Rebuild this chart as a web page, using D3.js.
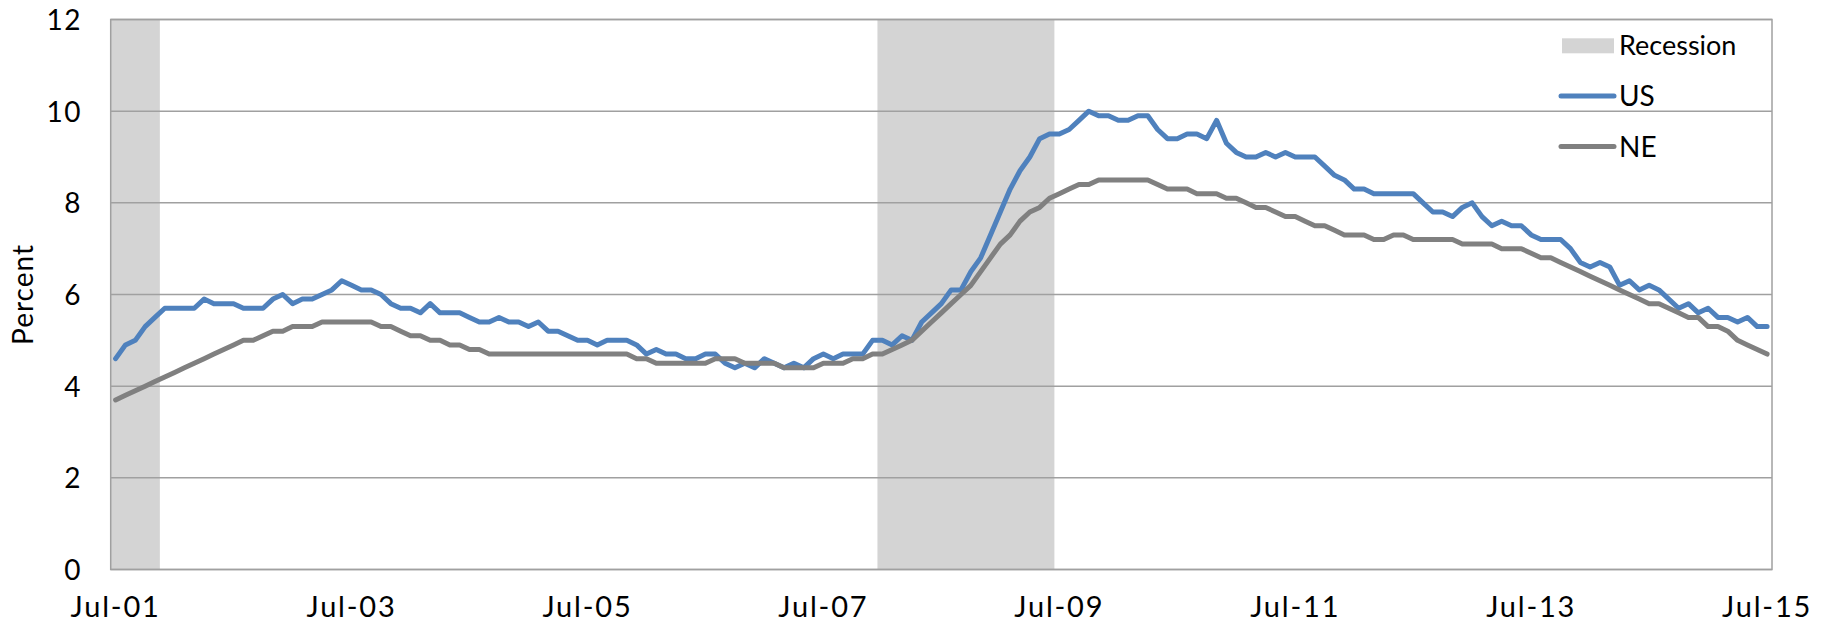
<!DOCTYPE html>
<html>
<head>
<meta charset="utf-8">
<script src="https://cdn.jsdelivr.net/npm/d3@7"></script>
<style>
  html, body { margin: 0; padding: 0; background: #fff; }
  svg { display: block; font-family: Lato, "Open Sans", sans-serif; }
</style>
</head>
<body>
<svg id="chart" width="1825" height="621"></svg>
<script>
// ---- Data ----
// Monthly, Jul-2001 .. Jul-2015 (169 months)
const startMonth = new Date(2001, 6, 1);
const endMonth = new Date(2015, 6, 1);
const monthFmt = d3.timeFormat("%b-%y");
const categories = d3.timeMonth.range(startMonth, d3.timeMonth.offset(endMonth, 1)).map(monthFmt);

const tickLabels = ["Jul-01", "Jul-03", "Jul-05", "Jul-07", "Jul-09", "Jul-11", "Jul-13", "Jul-15"];
const yTicks = [0, 2, 4, 6, 8, 10, 12];

const usValues = [
  4.6, 4.9, 5.0, 5.3, 5.5, 5.7,
  5.7, 5.7, 5.7, 5.9, 5.8, 5.8, 5.8, 5.7, 5.7, 5.7, 5.9, 6.0,
  5.8, 5.9, 5.9, 6.0, 6.1, 6.3, 6.2, 6.1, 6.1, 6.0, 5.8, 5.7,
  5.7, 5.6, 5.8, 5.6, 5.6, 5.6, 5.5, 5.4, 5.4, 5.5, 5.4, 5.4,
  5.3, 5.4, 5.2, 5.2, 5.1, 5.0, 5.0, 4.9, 5.0, 5.0, 5.0, 4.9,
  4.7, 4.8, 4.7, 4.7, 4.6, 4.6, 4.7, 4.7, 4.5, 4.4, 4.5, 4.4,
  4.6, 4.5, 4.4, 4.5, 4.4, 4.6, 4.7, 4.6, 4.7, 4.7, 4.7, 5.0,
  5.0, 4.9, 5.1, 5.0, 5.4, 5.6, 5.8, 6.1, 6.1, 6.5, 6.8, 7.3,
  7.8, 8.3, 8.7, 9.0, 9.4, 9.5, 9.5, 9.6, 9.8, 10.0, 9.9, 9.9,
  9.8, 9.8, 9.9, 9.9, 9.6, 9.4, 9.4, 9.5, 9.5, 9.4, 9.8, 9.3,
  9.1, 9.0, 9.0, 9.1, 9.0, 9.1, 9.0, 9.0, 9.0, 8.8, 8.6, 8.5,
  8.3, 8.3, 8.2, 8.2, 8.2, 8.2, 8.2, 8.0, 7.8, 7.8, 7.7, 7.9,
  8.0, 7.7, 7.5, 7.6, 7.5, 7.5, 7.3, 7.2, 7.2, 7.2, 7.0, 6.7,
  6.6, 6.7, 6.6, 6.2, 6.3, 6.1, 6.2, 6.1, 5.9, 5.7, 5.8, 5.6,
  5.7, 5.5, 5.5, 5.4, 5.5, 5.3, 5.3
];

const neValues = [
  3.7, 3.8, 3.9, 4.0, 4.1, 4.2,
  4.3, 4.4, 4.5, 4.6, 4.7, 4.8, 4.9, 5.0, 5.0, 5.1, 5.2, 5.2,
  5.3, 5.3, 5.3, 5.4, 5.4, 5.4, 5.4, 5.4, 5.4, 5.3, 5.3, 5.2,
  5.1, 5.1, 5.0, 5.0, 4.9, 4.9, 4.8, 4.8, 4.7, 4.7, 4.7, 4.7,
  4.7, 4.7, 4.7, 4.7, 4.7, 4.7, 4.7, 4.7, 4.7, 4.7, 4.7, 4.6,
  4.6, 4.5, 4.5, 4.5, 4.5, 4.5, 4.5, 4.6, 4.6, 4.6, 4.5, 4.5,
  4.5, 4.5, 4.4, 4.4, 4.4, 4.4, 4.5, 4.5, 4.5, 4.6, 4.6, 4.7,
  4.7, 4.8, 4.9, 5.0, 5.2, 5.4, 5.6, 5.8, 6.0, 6.2, 6.5, 6.8,
  7.1, 7.3, 7.6, 7.8, 7.9, 8.1, 8.2, 8.3, 8.4, 8.4, 8.5, 8.5,
  8.5, 8.5, 8.5, 8.5, 8.4, 8.3, 8.3, 8.3, 8.2, 8.2, 8.2, 8.1,
  8.1, 8.0, 7.9, 7.9, 7.8, 7.7, 7.7, 7.6, 7.5, 7.5, 7.4, 7.3,
  7.3, 7.3, 7.2, 7.2, 7.3, 7.3, 7.2, 7.2, 7.2, 7.2, 7.2, 7.1,
  7.1, 7.1, 7.1, 7.0, 7.0, 7.0, 6.9, 6.8, 6.8, 6.7, 6.6, 6.5,
  6.4, 6.3, 6.2, 6.1, 6.0, 5.9, 5.8, 5.8, 5.7, 5.6, 5.5, 5.5,
  5.3, 5.3, 5.2, 5.0, 4.9, 4.8, 4.7
];

const recessions = [
  { start: "Jul-01", end: "Nov-01" },
  { start: "Jan-08", end: "Jun-09" }
];

const seriesNames = ["US", "NE"];
const seriesColors = ["#4f81bd", "#808080"];

// ---- Layout ----
const plot = { left: 110.7, right: 1772, top: 19.5, bottom: 569.5 };
const svg = d3.select("#chart");

const x = d3.scaleBand().domain(categories).range([plot.left, plot.right]).paddingInner(0).paddingOuter(0);
const y = d3.scaleLinear().domain([0, 12]).range([plot.bottom, plot.top]);
const cx = c => x(c) + x.bandwidth() / 2;

// Recession shading
svg.append("g").selectAll("rect").data(recessions).join("rect")
  .attr("x", d => x(d.start))
  .attr("width", d => x(d.end) + x.bandwidth() - x(d.start))
  .attr("y", y(12))
  .attr("height", y(0) - y(12))
  .attr("fill", "#d4d4d4");

// Gridlines
svg.append("g").selectAll("line").data(yTicks).join("line")
  .attr("x1", plot.left).attr("x2", plot.right)
  .attr("y1", d => y(d)).attr("y2", d => y(d))
  .attr("stroke", "#a0a0a0").attr("stroke-width", 1.5);

// Lines
const line = d3.line().x((d, i) => cx(categories[i])).y(d => y(d));
[usValues, neValues].forEach((vals, k) => {
  svg.append("path").datum(vals)
    .attr("d", line)
    .attr("fill", "none")
    .attr("stroke", seriesColors[k])
    .attr("stroke-width", 5)
    .attr("stroke-linejoin", "round")
    .attr("stroke-linecap", "round");
});

// Plot border
svg.append("rect")
  .attr("x", plot.left).attr("y", plot.top)
  .attr("width", plot.right - plot.left).attr("height", plot.bottom - plot.top)
  .attr("fill", "none").attr("stroke", "#a0a0a0").attr("stroke-width", 1.5);

// Y axis labels
const yAxis = d3.axisLeft(y).tickValues(yTicks).tickSize(0).tickPadding(0).tickFormat(d3.format("d"));
const yg = svg.append("g").attr("transform", `translate(${82},0)`).call(yAxis);
yg.select(".domain").remove();
yg.selectAll("text").attr("font-size", 28).attr("fill", "#000").attr("font-family", "Lato")
  .attr("letter-spacing", 1.5).attr("dy", "0.36em");

// X axis labels
const xAxis = d3.axisBottom(x).tickValues(tickLabels).tickSize(0).tickPadding(0);
const xg = svg.append("g").attr("transform", `translate(0,${plot.bottom})`).call(xAxis);
xg.select(".domain").remove();
xg.selectAll("text").attr("font-size", 29).attr("fill", "#000").attr("font-family", "Lato")
  .attr("letter-spacing", 1.8).attr("y", 47).attr("dy", 0);

// Y title
svg.append("text")
  .attr("transform", `translate(${33},${(plot.top + plot.bottom) / 2}) rotate(-90)`)
  .attr("text-anchor", "middle")
  .attr("font-size", 28).attr("letter-spacing", 1).attr("font-family", "Lato").attr("fill", "#000")
  .text("Percent");

// Legend
const lg = svg.append("g");
lg.append("rect").attr("x", 1562).attr("y", 38.3).attr("width", 52).attr("height", 15).attr("fill", "#d4d4d4");
lg.append("text").attr("x", 1619).attr("y", 55).attr("font-size", 27).attr("font-family", "Lato").attr("fill", "#000").text("Recession");
seriesNames.forEach((name, k) => {
  const yy = 96 + k * 50.5;
  lg.append("line").attr("x1", 1561).attr("x2", 1614).attr("y1", yy).attr("y2", yy)
    .attr("stroke", seriesColors[k]).attr("stroke-width", 5).attr("stroke-linecap", "round");
  lg.append("text").attr("x", 1619).attr("y", yy + 10).attr("font-size", 28).attr("font-family", "Lato").attr("fill", "#000").text(name);
});
</script>
</body>
</html>
